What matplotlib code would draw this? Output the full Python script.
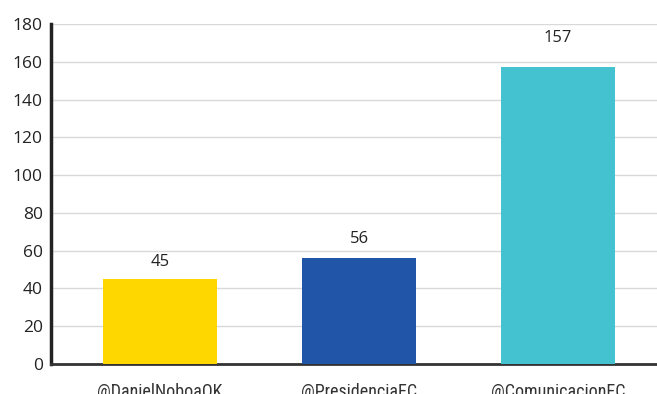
import matplotlib
matplotlib.use("Agg")
import matplotlib.pyplot as plt
from matplotlib import font_manager

categories = ["@DanielNoboaOK", "@PresidenciaEC", "@ComunicacionEC"]
values = [45, 56, 157]
colors = ["#FFD700", "#2155A8", "#44C2D0"]
yticks = [0, 20, 40, 60, 80, 100, 120, 140, 160, 180]
label_gaps_px = [9, 11, 21]

names = {f.name for f in font_manager.fontManager.ttflist}
cond = [n for n in ["Roboto Condensed", "Liberation Sans Narrow", "Open Sans Condensed", "Roboto"] if n in names]
xfont = cond[:1] + ['DejaVu Sans']

fig = plt.figure(figsize=(6.57, 3.94), dpi=100)
ax = fig.add_axes([51/657, (394-364)/394, 1 - 51/657, 340/394])

x = list(range(len(categories)))
ax.bar(x, values, width=0.573, color=colors, zorder=3)
for xi, v, g in zip(x, values, label_gaps_px):
    ax.annotate(str(v), (xi, v), xytext=(0, g * 0.72), textcoords="offset points",
                ha="center", va="bottom", fontsize=12, color="#222222",
                family=['Open Sans', 'DejaVu Sans'])

ax.set_xlim(-0.548, 2.497)
ax.set_ylim(0, 180)
ax.set_yticks(yticks)
ax.set_yticklabels([str(t) for t in yticks], fontsize=12.5, color="#222222",
                   family=['Open Sans', 'DejaVu Sans'])
ax.set_xticks(x)
ax.set_xticklabels(categories, fontsize=13, color="#333333", family=xfont)
ax.tick_params(axis="both", length=0)
ax.tick_params(axis="x", pad=14)
ax.tick_params(axis="y", pad=6)
ax.yaxis.grid(True, color="#d9d9d9", linewidth=1, zorder=0)
ax.set_axisbelow(True)
for s in ["top", "right"]:
    ax.spines[s].set_visible(False)
ax.spines["left"].set_linewidth(2.5)
ax.spines["left"].set_color("#222222")
ax.spines["bottom"].set_linewidth(2)
ax.spines["bottom"].set_color("#333333")

fig.savefig("out.png", dpi=100)
